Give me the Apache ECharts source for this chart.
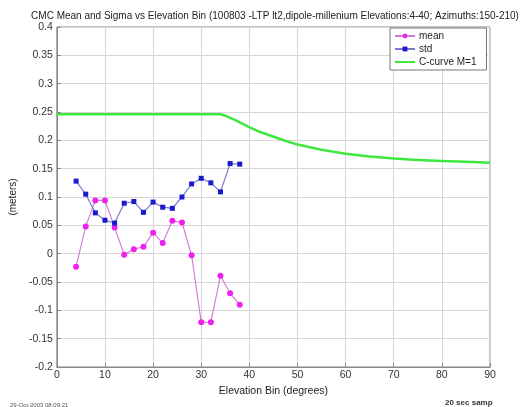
<!DOCTYPE html>
<html><head><meta charset="utf-8">
<script src="https://cdn.jsdelivr.net/npm/echarts@6/dist/echarts.min.js"></script>
<style>html,body{margin:0;padding:0;background:#fff}#c{width:521px;height:407px}</style>
</head><body><div id="c"></div>
<script>
var elev = [4,6,8,10,12,14,16,18,20,22,24,26,28,30,32,34,36,38];
var meanVals = [-0.023,0.048,0.094,0.094,0.046,-0.002,0.008,0.012,0.037,0.019,0.058,0.055,-0.003,-0.121,-0.121,-0.039,-0.070,-0.090];
var stdVals = [0.128,0.105,0.072,0.059,0.054,0.089,0.092,0.073,0.091,0.082,0.080,0.100,0.123,0.133,0.125,0.109,0.159,0.158];
var curveX = [0,10,20,30,34,35,36,37,38.5,40,42,44,47,50,55,60,65,70,75,80,85,90];
var curveY = [0.246,0.246,0.246,0.246,0.246,0.2435,0.2398,0.236,0.2295,0.2235,0.2155,0.2095,0.2005,0.1925,0.1835,0.1765,0.1715,0.168,0.1655,0.1636,0.162,0.1606];
var xTicks = [0,10,20,30,40,50,60,70,80,90];
var yTicks = [-0.2,-0.15,-0.1,-0.05,0,0.05,0.1,0.15,0.2,0.25,0.3,0.35,0.4];

function pairs(xs, ys){ return xs.map(function(x,i){return [x, ys[i]];}); }
var F = 'Liberation Sans, Arial, sans-serif';
var chart = echarts.init(document.getElementById('c'), null, {renderer:'canvas'});
chart.setOption({
  animation:false,
  backgroundColor:'#ffffff',
  textStyle:{fontFamily:F},
  title:[
    {text:'CMC Mean and Sigma vs Elevation Bin (100803 -LTP lt2,dipole-millenium Elevations:4-40; Azimuths:150-210)',
     left:270, top:6, textAlign:'center', textStyle:{fontSize:10, fontWeight:'normal', color:'#222', fontFamily:F}},
    {text:'29-Oct-2003 08:09:21', left:5, top:397, textStyle:{fontSize:6, fontWeight:'normal', color:'#555', fontFamily:F}},
    {text:'20 sec samp', left:440, top:394, textStyle:{fontSize:8, fontWeight:'bold', color:'#333', fontFamily:F}}
  ],
  grid:{left:54, right:31, top:27, bottom:40, show:true, borderColor:'#888', borderWidth:1},
  legend:{
    orient:'vertical', left:390, top:28, itemGap:3, itemWidth:20, itemHeight:6,
    backgroundColor:'#fff', borderColor:'#777', borderWidth:1, padding:[3,10,3,4],
    textStyle:{fontSize:10, color:'#222', fontFamily:F, padding:[0,0,0,-1]},
    data:['mean','std',{name:'C-curve M=1', itemStyle:{opacity:0}}]
  },
  xAxis:{
    type:'value', min:0, max:90, interval:10,
    name:'Elevation Bin (degrees)', nameLocation:'middle', nameGap:16,
    nameTextStyle:{fontSize:10.5, color:'#222', fontFamily:F},
    axisLine:{show:true, onZero:false, lineStyle:{color:'#888'}},
    axisTick:{show:true, inside:true, length:4, lineStyle:{color:'#888'}},
    axisLabel:{fontSize:10.5, color:'#333', margin:3, fontFamily:F},
    splitLine:{show:true, lineStyle:{color:'#d6d6d6', width:1}}
  },
  yAxis:{
    type:'value', min:-0.2, max:0.4, interval:0.05,
    name:'(meters)', nameLocation:'middle', nameGap:30, nameRotate:90,
    nameTextStyle:{fontSize:10, color:'#222', fontFamily:F},
    axisLine:{show:true, onZero:false, lineStyle:{color:'#888'}},
    axisTick:{show:true, inside:true, length:4, lineStyle:{color:'#888'}},
    axisLabel:{fontSize:10.5, color:'#333', margin:4, fontFamily:F,
      formatter:function(v){ var r=Math.round(v*100)/100; return String(r); }},
    splitLine:{show:true, lineStyle:{color:'#d6d6d6', width:1}}
  },
  series:[
    {name:'mean', type:'line', data:pairs(elev, meanVals), symbol:'circle', symbolSize:6,
     lineStyle:{color:'#d67ed6', width:1.2}, itemStyle:{color:'#ee22ee'}},
    {name:'std', type:'line', data:pairs(elev, stdVals), symbol:'rect', symbolSize:5,
     lineStyle:{color:'#7a7ad0', width:1.2}, itemStyle:{color:'#1a1acc'}},
    {name:'C-curve M=1', type:'line', data:pairs(curveX, curveY), symbol:'none', smooth:false,
     lineStyle:{color:'#3ee83e', width:2.5, join:'round'}, itemStyle:{color:'#3ee83e'}}
  ]
});
</script></body></html>
